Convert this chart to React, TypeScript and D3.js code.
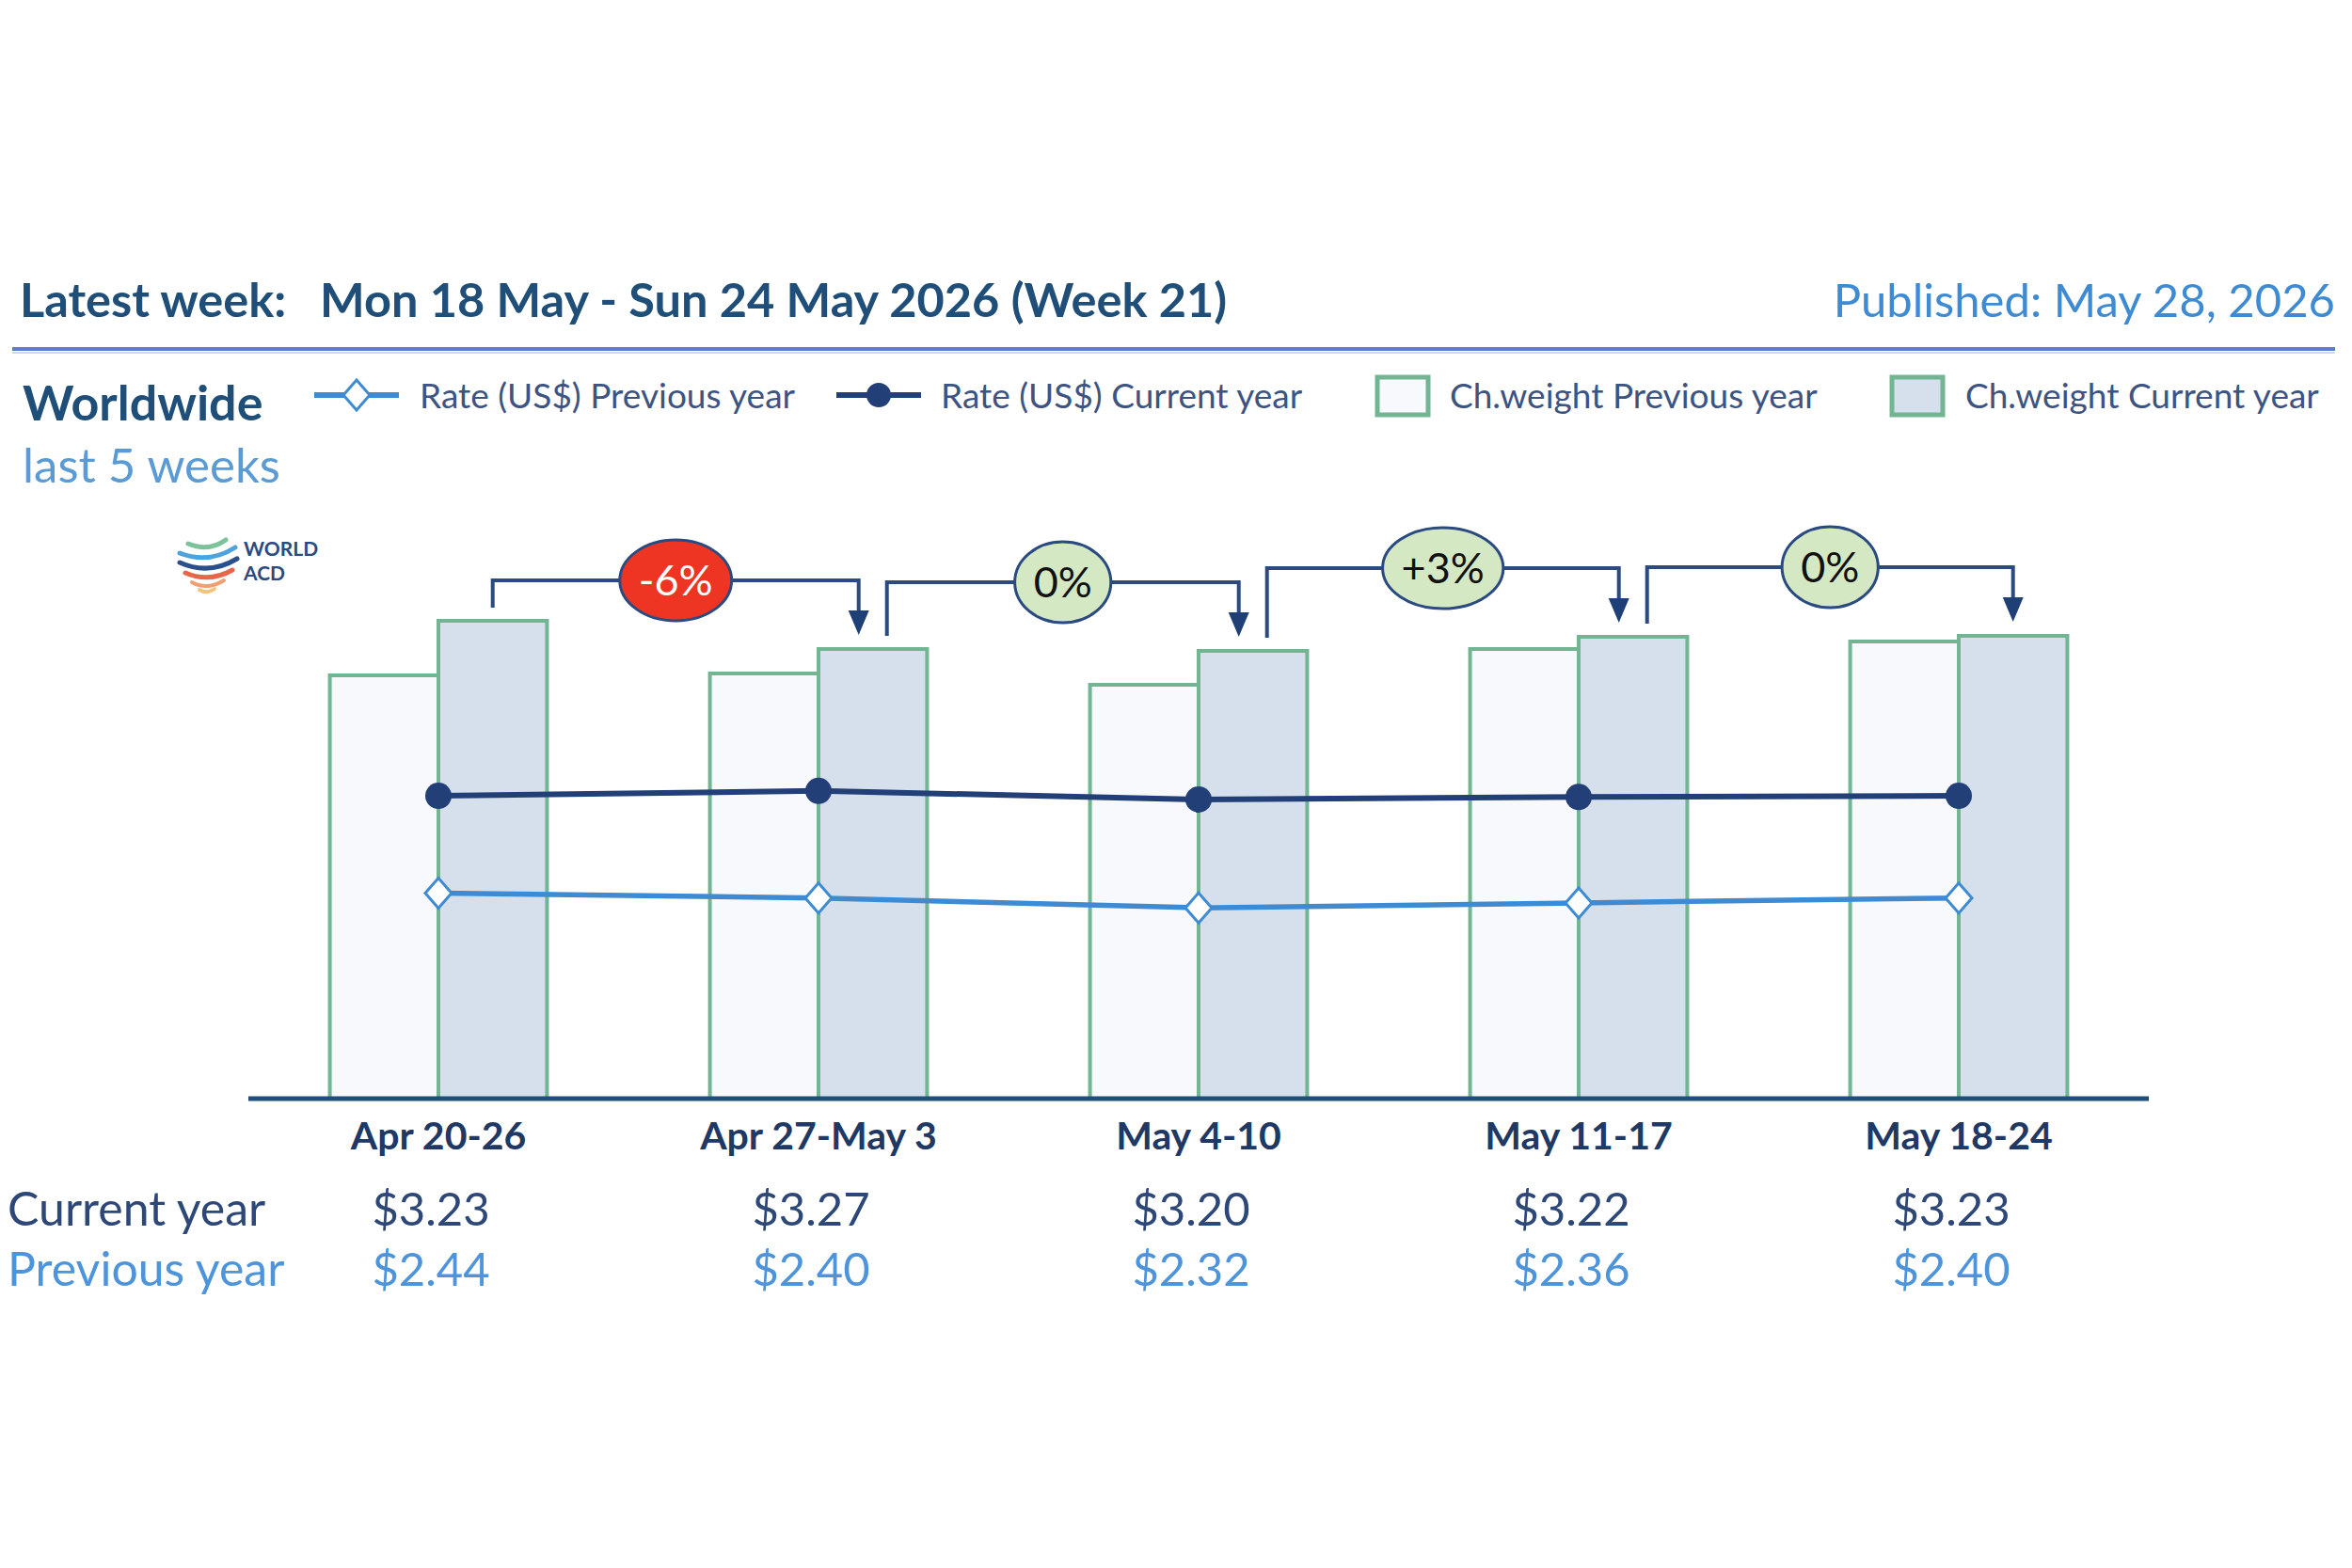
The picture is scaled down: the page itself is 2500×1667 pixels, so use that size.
import React from "react";
import * as d3 from "d3";

// weekly data
const weeks = ["Apr 20-26", "Apr 27-May 3", "May 4-10", "May 11-17", "May 18-24"];
const rateCurrent = [3.23, 3.27, 3.2, 3.22, 3.23];
const ratePrevious = [2.44, 2.4, 2.32, 2.36, 2.4];
// chargeable weight (index, no axis shown)
const weightCurrent = [508, 478, 476, 491, 492];
const weightPrevious = [450, 452, 440, 478, 486];
// week-on-week change of current chargeable weight, as printed
const weekChange = [-6, 0, 3, 0];

const FONT = "Lato, 'Open Sans', sans-serif";
const navy = "#1f4e79";
const darkBlue = "#223f78";
const lightBlue = "#3f8bd3";
const green = "#72b592";
const legendText = "#3d5382";

const width = 2500;
const height = 1667;
const axisY = 1168;

// measure text so the label bubbles fit their text
const ctx = typeof document !== "undefined" ? document.createElement("canvas").getContext("2d") : null;
function textWidth(s, font) {
	if (!ctx) return s.length * 20;
	ctx.font = font;
	return ctx.measureText(s).width;
}

function fmtChange(v) {
	if (v > 0) return `+${v}%`;
	return `${v}%`;
}

const App = () => {
	const x = d3.scaleBand().domain(weeks).range([264, 2284]);
	const inner = d3
		.scaleBand()
		.domain(["prev", "cur"])
		.range([0, x.bandwidth()])
		.paddingOuter(0.75);
	const yWeight = d3.scaleLinear().domain([0, 600]).range([axisY, axisY - 600]);
	const yRate = d3.scaleLinear().domain([0.77, 5.11]).range([axisY, 600]);

	const mid = (w) => x(w) + x.bandwidth() / 2;
	const curCenter = (i) => x(weeks[i]) + inner("cur") + inner.bandwidth() / 2;

	const line = d3
		.line()
		.x((d) => d[0])
		.y((d) => d[1]);
	const curPts = weeks.map((w, i) => [mid(w), yRate(rateCurrent[i])]);
	const prevPts = weeks.map((w, i) => [mid(w), yRate(ratePrevious[i])]);

	const diamond = (cx, cy, rx, ry) => `M${cx},${cy - ry}L${cx + rx},${cy}L${cx},${cy + ry}L${cx - rx},${cy}Z`;

	// brackets between consecutive current-year bars
	const offset = 15;
	const labelFont = 45;
	const brackets = weekChange.map((v, i) => {
		const src = i;
		const tgt = i + 1;
		const sx = curCenter(src) + (src > 0 ? offset : 0);
		const tx = curCenter(tgt) - (tgt < weeks.length - 1 ? offset : 0);
		const stemBottom = yWeight(weightCurrent[src]) - 14;
		const tipY = yWeight(weightCurrent[tgt]) - 15;
		const level = tipY - 58;
		const label = fmtChange(v);
		const rx = textWidth(label, `${labelFont}px ${FONT}`) / 2 + 20;
		return { v, sx, tx, stemBottom, tipY, level, label, rx };
	});

	return (
		<svg
			width={width}
			height={height}
			style={{ position: "absolute", left: 0, top: 0, background: "#fff" }}
			fontFamily={FONT}
		>
			{/* header */}
			<text x={21} y={337} fontSize={50.5} fontWeight="bold" fill={navy}>
				Latest week:
			</text>
			<text x={340} y={337} fontSize={50.5} fontWeight="bold" fill={navy}>
				Mon 18 May - Sun 24 May 2026 (Week 21)
			</text>
			<text x={2482} y={337} fontSize={49} textAnchor="end" fill={lightBlue}>
				Published: May 28, 2026
			</text>
			<line x1={13} x2={2482} y1={371} y2={371} stroke="#5b7fc6" strokeWidth={4} />
			<line x1={13} x2={2482} y1={375} y2={375} stroke="#cdd8ee" strokeWidth={2} />

			<text x={24} y={447} fontSize={52} fontWeight="bold" fill={navy}>
				Worldwide
			</text>
			<text x={24} y={513} fontSize={51} fill="#5b9bd5">
				last 5 weeks
			</text>

			{/* legend */}
			<g fontSize={37} fill={legendText}>
				<line x1={334} x2={424} y1={420} y2={420} stroke={lightBlue} strokeWidth={6} />
				<path d={diamond(379, 420, 14, 16)} fill="#fff" stroke={lightBlue} strokeWidth={3} />
				<text x={446} y={434}>Rate (US$) Previous year</text>

				<line x1={889} x2={979} y1={420} y2={420} stroke={darkBlue} strokeWidth={6} />
				<circle cx={934} cy={420} r={13} fill={darkBlue} />
				<text x={1000} y={434}>Rate (US$) Current year</text>

				<rect x={1464} y={401} width={54} height={40} fill="#f7f9fd" stroke={green} strokeWidth={5} />
				<text x={1541} y={434}>Ch.weight Previous year</text>

				<rect x={2011} y={401} width={54} height={40} fill="#d6dfec" stroke={green} strokeWidth={5} />
				<text x={2089} y={434}>Ch.weight Current year</text>
			</g>

			{/* logo */}
			<g fill="none" strokeLinecap="round">
				<path d="M200,578 Q222,587 240,574" stroke="#7cc29a" strokeWidth={5} />
				<path d="M191,588 Q222,600 250,582" stroke="#4ea3dd" strokeWidth={5} />
				<path d="M191,598 Q222,612 252,594" stroke="#2b4f8a" strokeWidth={5} />
				<path d="M197,609 Q222,620 247,606" stroke="#e8674a" strokeWidth={5} />
				<path d="M204,619 Q220,628 238,617" stroke="#f0a070" strokeWidth={4} />
				<path d="M212,627 Q220,632 228,626" stroke="#f4c27a" strokeWidth={4} />
			</g>
			<text x={259} y={591} fontSize={21} fontWeight="bold" fill="#2b4a7f">
				WORLD
			</text>
			<text x={259} y={617} fontSize={21} fontWeight="bold" fill="#2b4a7f">
				ACD
			</text>

			{/* bars */}
			{weeks.map((w, i) => (
				<g key={w}>
					<rect
						x={x(w) + inner("prev")}
						y={yWeight(weightPrevious[i])}
						width={inner.bandwidth()}
						height={axisY - yWeight(weightPrevious[i])}
						fill="#f7f9fd"
						stroke={green}
						strokeWidth={4}
					/>
					<rect
						x={x(w) + inner("cur")}
						y={yWeight(weightCurrent[i])}
						width={inner.bandwidth()}
						height={axisY - yWeight(weightCurrent[i])}
						fill="#d6dfec"
						stroke={green}
						strokeWidth={4}
					/>
				</g>
			))}
			<line x1={264} x2={2284} y1={axisY} y2={axisY} stroke={navy} strokeWidth={5} />

			{/* rate lines */}
			<path d={line(prevPts)} fill="none" stroke={lightBlue} strokeWidth={5.5} />
			{prevPts.map((p, i) => (
				<path key={i} d={diamond(p[0], p[1], 14, 16)} fill="#fff" stroke={lightBlue} strokeWidth={3} />
			))}
			<path d={line(curPts)} fill="none" stroke={darkBlue} strokeWidth={6} />
			{curPts.map((p, i) => (
				<circle key={i} cx={p[0]} cy={p[1]} r={14} fill={darkBlue} />
			))}

			{/* change brackets */}
			{brackets.map((b, i) => (
				<g key={i}>
					<path
						d={`M${b.sx},${b.stemBottom}V${b.level}H${b.tx}V${b.tipY - 24}`}
						fill="none"
						stroke="#2a4a80"
						strokeWidth={4}
					/>
					<path
						d={`M${b.tx - 11},${b.tipY - 26}L${b.tx + 11},${b.tipY - 26}L${b.tx},${b.tipY}Z`}
						fill="#1f3f77"
					/>
					<ellipse
						cx={(b.sx + b.tx) / 2}
						cy={b.level}
						rx={b.rx}
						ry={43}
						fill={b.v <= -2 ? "#ee3524" : "#d3e8c3"}
						stroke="#2a4a80"
						strokeWidth={3}
					/>
					<text
						x={(b.sx + b.tx) / 2}
						y={b.level + 16}
						fontSize={labelFont}
						textAnchor="middle"
						fill={b.v <= -2 ? "#fff" : "#111"}
					>
						{b.label}
					</text>
				</g>
			))}

			{/* category labels and rate table */}
			{weeks.map((w) => (
				<text key={w} x={mid(w)} y={1222} fontSize={41} fontWeight="bold" textAnchor="middle" fill="#203864">
					{w}
				</text>
			))}
			<text x={8} y={1303} fontSize={50} fill="#2c4778">
				Current year
			</text>
			<text x={8} y={1367} fontSize={50} fill="#4d94db">
				Previous year
			</text>
			{weeks.map((w, i) => (
				<g key={w} fontSize={49} textAnchor="middle">
					<text x={mid(w) - 8} y={1303} fill="#2c4778">
						${rateCurrent[i].toFixed(2)}
					</text>
					<text x={mid(w) - 8} y={1367} fill="#4d94db">
						${ratePrevious[i].toFixed(2)}
					</text>
				</g>
			))}
		</svg>
	);
};

export default App;
